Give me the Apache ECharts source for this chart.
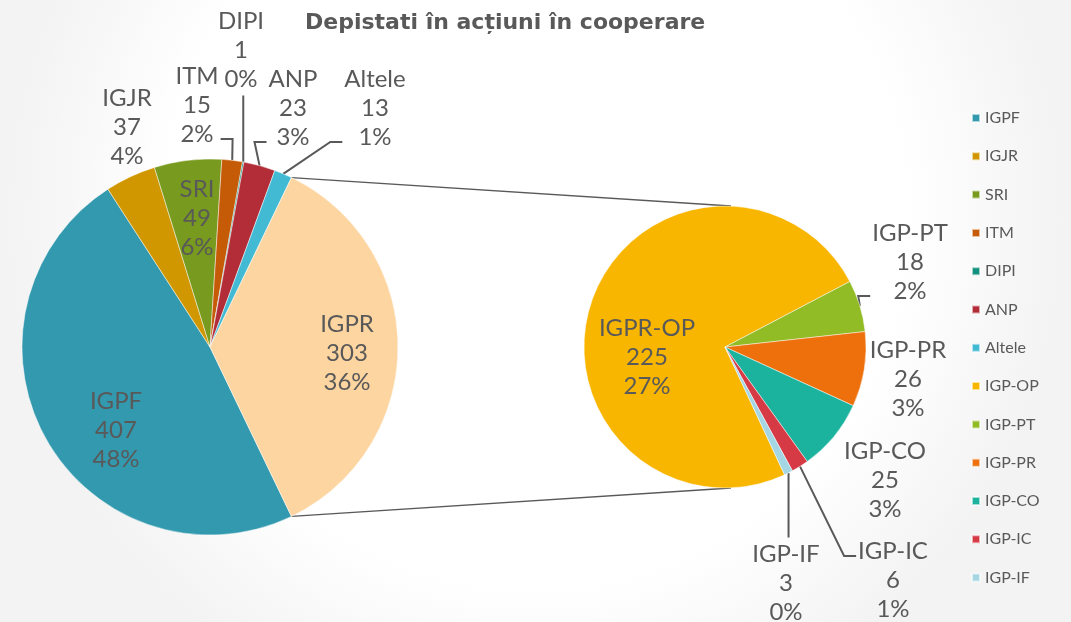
<!DOCTYPE html>
<html>
<head>
<meta charset="utf-8">
<style>
  html, body { margin: 0; padding: 0; background: #fff; }
  #chart { width: 1071px; height: 622px; }
</style>
<script src="https://cdn.jsdelivr.net/npm/echarts@6/dist/echarts.min.js"></script>
</head>
<body>
<div id="chart"></div>
<script>
// pie principal
const mainNames = ['IGPF', 'IGJR', 'SRI', 'ITM', 'DIPI', 'ANP', 'Altele', 'IGPR'];
const mainValues = [407, 37, 49, 15, 1, 23, 13, 303];
const mainColors = ['#3399AE', '#D09700', '#789A1E', '#C55A07', '#12907E', '#B22D37', '#42BAD4', '#FDD5A0'];

// pie secundar (detaliere IGPR)
const subNames = ['IGP-OP', 'IGP-PT', 'IGP-PR', 'IGP-CO', 'IGP-IC', 'IGP-IF'];
const subValues = [225, 18, 26, 25, 6, 3];
const subColors = ['#F8B600', '#92BC26', '#EE700C', '#1BB39E', '#D63A44', '#A5D6E4'];

// eticheta afisata diferit fata de legenda
const labelText = { 'IGP-OP': 'IGPR-OP' };

const total = mainValues.reduce((a, b) => a + b, 0);

// procente rotunjite ca in Excel (suma = 100)
function percents(vals, sum) {
  const raw = vals.map(v => v / sum * 100);
  const out = raw.map(Math.floor);
  const left = 100 - out.reduce((a, b) => a + b, 0);
  const order = raw.map((r, i) => [r - Math.floor(r), i]).sort((a, b) => b[0] - a[0]);
  for (let k = 0; k < left; k++) out[order[k][1]]++;
  return out;
}
const mainPct = percents(mainValues, total);
const subPct = subValues.map(v => Math.round(v / total * 100));

// geometrie
const C1 = [210, 347], R1 = 188;
const C2 = [725, 347], R2 = 141;
const restShare = mainValues[mainValues.length - 1] / total;
const start1 = -restShare * 180;
const start2 = -65;

function midAngles(vals, start) {
  const sum = vals.reduce((a, b) => a + b, 0);
  let cum = 0;
  return vals.map(v => {
    const a = start - (cum + v / 2) / sum * 360;
    cum += v;
    return a * Math.PI / 180;
  });
}
const mids = [midAngles(mainValues, start1), midAngles(subValues, start2)];
const centers = [C1, C2], radii = [R1, R2];

// unde stau etichetele (centru) si cum se leaga linia
const spots = [
  [
    { x: 116, y: 430 },
    { x: 127, y: 127 },
    { x: 197, y: 218 },
    { x: 197, y: 105, line: 'right', row: 2 },
    { x: 241, y: 50, line: 'bottom' },
    { x: 293, y: 108, line: 'left', row: 2 },
    { x: 375, y: 108, line: 'left', row: 2 },
    { x: 347, y: 353 }
  ],
  [
    { x: 647, y: 357 },
    { x: 910, y: 262, line: 'left', row: 2 },
    { x: 908, y: 379 },
    { x: 885, y: 480 },
    { x: 893, y: 580, line: 'left', row: 0 },
    { x: 786, y: 583, line: 'top' }
  ]
];

function labelLayout(params) {
  const s = params.seriesIndex, i = params.dataIndex;
  const spot = spots[s][i];
  const w = params.labelRect.width, h = params.labelRect.height;
  const res = { x: spot.x, y: spot.y, align: 'center', verticalAlign: 'middle' };
  if (spot.line) {
    const a = mids[s][i];
    const edge = [centers[s][0] + radii[s] * Math.cos(a), centers[s][1] - radii[s] * Math.sin(a)];
    const lh = h / 3;
    if (spot.line === 'bottom') {
      res.labelLinePoints = [edge, [edge[0], spot.y + h / 2 + 2]];
    } else if (spot.line === 'top') {
      res.labelLinePoints = [edge, [edge[0], spot.y - h / 2 - 2]];
    } else {
      const dir = spot.line === 'left' ? -1 : 1;
      const ay = spot.y - h / 2 + lh * (spot.row + 0.5) + 5;
      const ax = spot.x + dir * (w / 2 + 2);
      res.labelLinePoints = [edge, [ax + dir * 12, ay], [ax, ay]];
    }
  }
  return res;
}

function labelFmt(p) {
  const pct = p.seriesIndex === 0 ? mainPct[p.dataIndex] : subPct[p.dataIndex];
  return (labelText[p.name] || p.name) + '\n' + p.value + '\n' + pct + '%';
}

function buildData(names, values, colors, spotList) {
  return names.map((n, i) => ({
    name: n,
    value: values[i],
    itemStyle: { color: colors[i] },
    labelLine: { show: !!spotList[i].line }
  }));
}

const labelStyle = {
  show: true,
  position: 'outside',
  formatter: labelFmt,
  color: '#595959',
  fontFamily: 'Lato',
  fontSize: 24,
  lineHeight: 29,
  align: 'center'
};

const a0 = restShare * Math.PI;
const topStart = [C1[0] + R1 * Math.cos(a0), C1[1] - R1 * Math.sin(a0)];
const botStart = [C1[0] + R1 * Math.cos(a0), C1[1] + R1 * Math.sin(a0)];

var myChart = echarts.init(document.getElementById('chart'));
const option = {
  animation: false,
  backgroundColor: {
    type: 'radial', x: 0.5, y: 0.35, r: 0.85,
    colorStops: [{ offset: 0, color: '#ffffff' }, { offset: 0.7, color: '#ffffff' }, { offset: 1, color: '#f3f3f3' }]
  },
  title: {
    text: 'Depistati în acțiuni în cooperare',
    left: 300,
    top: 7,
    textStyle: { fontFamily: 'DejaVu Sans', fontSize: 22, fontWeight: 'bold', color: '#595959' }
  },
  legend: {
    orient: 'vertical',
    left: 966,
    top: 105,
    icon: 'rect',
    itemWidth: 8,
    itemHeight: 8,
    itemGap: 22.3,
    data: mainNames.slice(0, -1).concat(subNames),
    textStyle: { fontFamily: 'Lato', fontSize: 16, color: '#595959' }
  },
  graphic: [
    { type: 'line', z: -10, shape: { x1: topStart[0], y1: topStart[1], x2: C2[0] + 6, y2: C2[1] - R2 }, style: { stroke: '#595959', lineWidth: 1.3 } },
    { type: 'line', z: -10, shape: { x1: botStart[0], y1: botStart[1], x2: C2[0] + 6, y2: C2[1] + R2 }, style: { stroke: '#595959', lineWidth: 1.3 } }
  ],
  series: [
    {
      name: 'principal',
      type: 'pie',
      center: C1,
      radius: R1,
      startAngle: start1,
      clockwise: true,
      avoidLabelOverlap: false,
      itemStyle: { borderColor: 'rgba(255,255,255,0.6)', borderWidth: 0.8 },
      emphasis: { scale: false },
      label: labelStyle,
      labelLine: { lineStyle: { color: '#595959', width: 2 } },
      labelLayout: labelLayout,
      data: buildData(mainNames, mainValues, mainColors, spots[0])
    },
    {
      name: 'IGPR',
      type: 'pie',
      center: C2,
      radius: R2,
      startAngle: start2,
      clockwise: true,
      avoidLabelOverlap: false,
      itemStyle: { borderColor: 'rgba(255,255,255,0.6)', borderWidth: 0.8 },
      emphasis: { scale: false },
      label: labelStyle,
      labelLine: { lineStyle: { color: '#595959', width: 2 } },
      labelLayout: labelLayout,
      data: buildData(subNames, subValues, subColors, spots[1])
    }
  ]
};
myChart.setOption(option);
</script>
</body>
</html>
